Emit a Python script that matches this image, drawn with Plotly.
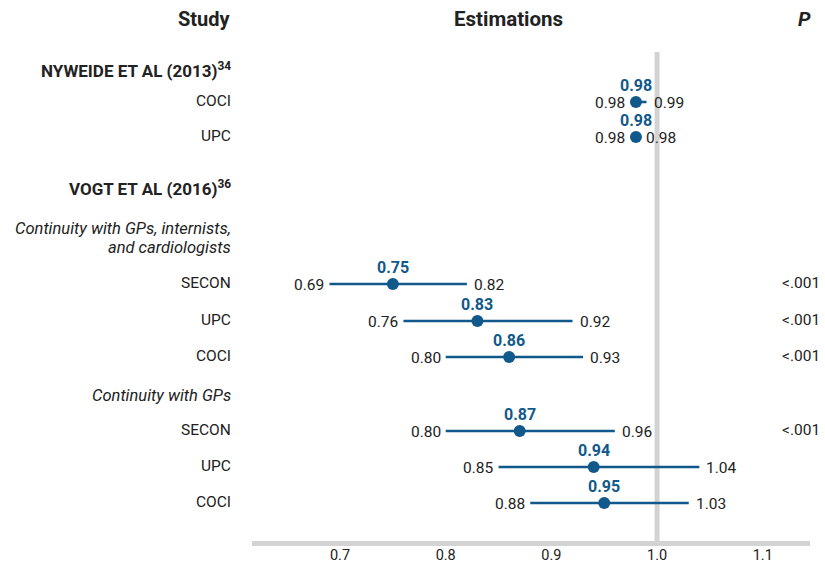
import plotly.graph_objects as go

# ---- data ----
row_labels = ["COCI", "UPC", "SECON", "UPC", "COCI", "SECON", "UPC", "COCI"]
estimates = [0.98, 0.98, 0.75, 0.83, 0.86, 0.87, 0.94, 0.95]
lower = [0.98, 0.98, 0.69, 0.76, 0.80, 0.80, 0.85, 0.88]
upper = [0.99, 0.98, 0.82, 0.92, 0.93, 0.96, 1.04, 1.03]
p_values = ["", "", "<.001", "<.001", "<.001", "<.001", "", ""]
headers = ["NYWEIDE ET AL (2013)<sup>34</sup>", "VOGT ET AL (2016)<sup>36</sup>"]
subgroups = [["Continuity with GPs, internists,", "and cardiologists"], ["Continuity with GPs"]]
tick_vals = [0.7, 0.8, 0.9, 1.0, 1.1]
tick_text = ["0.7", "0.8", "0.9", "1.0", "1.1"]

# ---- layout positions (pixel rows) ----
row_y = [102, 137, 284, 321, 357, 431, 467, 503]
header_y = [70, 188]
subgroup_y = [228, 395]
SUB_LINE = 19
W, H = 825, 564
BLUE = "#11598a"
DARK = "#222222"
GREY = "#d3d3d3"
FONT = "Roboto"
label_x = 233 / W
p_x = 822 / W

fig = go.Figure()

# reference line at 1.0
fig.add_shape(type="line", x0=1.0, x1=1.0, y0=52, y1=541, xref="x", yref="y",
              line=dict(color=GREY, width=5), layer="below")

# CIs + points
fig.add_trace(go.Scatter(
    x=estimates, y=row_y, mode="markers",
    marker=dict(color=BLUE, size=12),
    error_x=dict(type="data", symmetric=False,
                 array=[u - e for u, e in zip(upper, estimates)],
                 arrayminus=[e - l for e, l in zip(estimates, lower)],
                 color=BLUE, thickness=2.5, width=0),
    hoverinfo="skip", showlegend=False))

ann = []
def add(text, x, y, xref="paper", yref="y", xanchor="center", size=14, color=DARK,
        bold=False, italic=False, xshift=0, yshift=0):
    t = text
    if bold:
        t = "<b>" + t + "</b>"
    if italic:
        t = "<i>" + t + "</i>"
    ann.append(dict(text=t, x=x, y=y, xref=xref, yref=yref, xanchor=xanchor,
                    yanchor="middle", showarrow=False,
                    font=dict(family=FONT, size=size, color=color),
                    xshift=xshift, yshift=yshift))

# column titles
add("Study", label_x, 19, xanchor="right", size=20, bold=True)
add("Estimations", 508 / W, 19, size=20.5, bold=True)
add("P", 804.5 / W, 19, size=20, bold=True, italic=True)

for h, y in zip(headers, header_y):
    add(h, label_x, y, xanchor="right", size=17, bold=True)
for lines, y in zip(subgroups, subgroup_y):
    for i, s in enumerate(lines):
        add(s, label_x, y + i * SUB_LINE, xanchor="right", size=16.5, italic=True)

for lab, y, e, l, u, p in zip(row_labels, row_y, estimates, lower, upper, p_values):
    add(lab, label_x, y - 1, xanchor="right", size=15.5)
    add(f"{l:.2f}", l, y + 1, xref="x", xanchor="right", size=15.5,
        xshift=-3 if l < e else -9)
    add(f"{u:.2f}", u, y + 1, xref="x", xanchor="left", size=15.5,
        xshift=5 if u > e else 8)
    add(f"{e:.2f}", e, y - 17, xref="x", size=16, color=BLUE, bold=True)
    if p:
        add(p, p_x, y - 1, xanchor="right", size=15.5)

fig.update_layout(
    width=W, height=H, margin=dict(l=0, r=0, t=0, b=0, autoexpand=False),
    paper_bgcolor="white", plot_bgcolor="white",
    annotations=ann,
    xaxis=dict(domain=[252 / W, 810 / W], range=[0.6167, 1.1447], automargin=False,
               tickvals=tick_vals, ticktext=tick_text, showgrid=False, zeroline=False,
               showline=True, linecolor=GREY, linewidth=5, ticks="",
               ticklabelstandoff=-3,
               tickfont=dict(family=FONT, size=14.5, color=DARK)),
    yaxis=dict(domain=[23 / H, 1], range=[541, 0], visible=False, showgrid=False,
               zeroline=False, automargin=False),
    showlegend=False,
)

fig.write_html("out.html")
